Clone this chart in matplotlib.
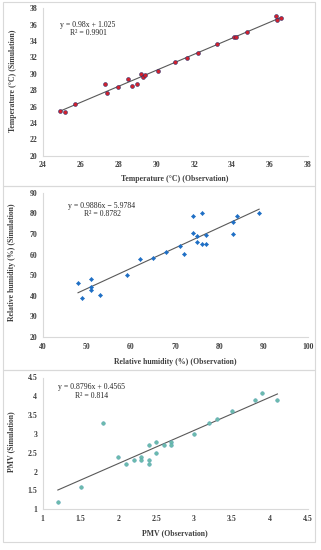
import matplotlib
matplotlib.use("Agg")
import matplotlib.pyplot as plt
from matplotlib.patches import Rectangle
import numpy as np

plt.rcParams['font.family'] = ['Liberation Serif', 'DejaVu Serif']

# Panel 1: temperature
temp_obs = [24.9, 25.2, 25.7, 27.3, 27.4, 28.0, 28.5, 28.7, 29.0, 29.2, 29.3, 29.4,
            30.1, 31.0, 31.6, 32.2, 33.2, 34.1, 34.2, 34.8, 36.3, 36.4, 36.6]
temp_sim = [25.5, 25.3, 26.3, 28.8, 27.7, 28.35, 29.4, 28.5, 28.8, 30.0, 29.6, 29.9,
            30.4, 31.4, 31.9, 32.6, 33.6, 34.45, 34.45, 35.15, 37.0, 36.6, 36.85]

# Panel 2: relative humidity
rh_obs = [48, 49, 51, 51, 51, 53, 59, 62, 65, 68, 71, 72, 74, 74, 75, 75, 76, 76,
          77, 77, 83, 83, 84, 89]
rh_sim = [46, 39, 48.3, 44.2, 43, 40.2, 50.1, 57.8, 58.3, 61.2, 64, 60.4, 78.7, 70.4,
          69, 66.1, 80.3, 65, 69.3, 65, 76, 70, 78.5, 80]

# Panel 3: PMV
pmv_obs = [1.2, 1.5, 1.8, 2.0, 2.1, 2.2, 2.3, 2.3, 2.4, 2.4, 2.4, 2.5, 2.5, 2.6,
           2.7, 2.7, 3.0, 3.2, 3.3, 3.5, 3.8, 3.9, 4.1]
pmv_sim = [1.2, 1.6, 3.3, 2.4, 2.2, 2.3, 2.4, 2.3, 2.7, 2.3, 2.2, 2.8, 2.5, 2.7,
           2.8, 2.7, 3.0, 3.3, 3.4, 3.6, 3.9, 4.1, 3.9]

W, H = 321, 550
fig = plt.figure(figsize=(W / 100, H / 100), dpi=100)


def fx(px):
    return px / W


def fy(py):
    return 1 - py / H


# panel frames
for top, bot in [(2, 185.7), (185.7, 370), (370, 542)]:
    fig.patches.append(Rectangle((fx(3), fy(bot)), fx(312), (bot - top) / H,
                                 transform=fig.transFigure, fill=False,
                                 edgecolor='#d9d9d9', linewidth=0.8))

panels = [
    dict(x=temp_obs, y=temp_sim, slope=0.98, icpt=1.025, top=8.3, bot=155.7,
         xlim=(24, 38), ylim=(20, 38), xt=np.arange(24, 39, 2), yt=np.arange(20, 39, 2),
         fc='#d4202c', ec='#2b2f6b', marker='o', ms=2.8,
         eq='y = 0.98x + 1.025\nR² = 0.9901', eqpos=(88, 29),
         xlabel='Temperature (°C) (Observation)', xlpos=179.3,
         ylabel='Temperature (°C) (Simulation)', ylpos=81, ylx=13),
    dict(x=rh_obs, y=rh_sim, slope=0.9886, icpt=-5.9784, top=192.7, bot=337,
         xlim=(40, 100), ylim=(20, 90), xt=np.arange(40, 101, 10), yt=np.arange(20, 91, 10),
         fc='#1f6fc5', ec='#1f6fc5', marker='D', ms=2.1,
         eq='y = 0.9886x \u2212 5.9784\nR² = 0.8782', eqpos=(102, 210),
         xlabel='Relative humidity (%) (Observation)', xlpos=362.5,
         ylabel='Relative humidity (%) (Simulation)', ylpos=262, ylx=12),
    dict(x=pmv_obs, y=pmv_sim, slope=0.8796, icpt=0.4565, top=377.5, bot=509.3,
         xlim=(1, 4.5), ylim=(1, 4.5), xt=np.arange(1, 4.6, 0.5), yt=np.arange(1, 4.6, 0.5),
         fc='#6cbcaa', ec='#5aa6b8', marker='o', ms=2.6,
         eq='y = 0.8796x + 0.4565\nR² = 0.814', eqpos=(92, 391.5),
         xlabel='PMV (Observation)', xlpos=533,
         ylabel='PMV (Simulation)', ylpos=442, ylx=11),
]

for p in panels:
    ax = fig.add_axes([fx(42.7), fy(p['bot']), fx(265), (p['bot'] - p['top']) / H])
    ax.scatter(p['x'], p['y'], s=p['ms'] ** 2, c=p['fc'], edgecolors=p['ec'],
               linewidths=0.4, marker=p['marker'], zorder=3)
    xs = np.array([min(p['x']), max(p['x'])])
    ax.plot(xs, p['slope'] * xs + p['icpt'], color='#595959', linewidth=0.8, zorder=2)
    ax.set_xlim(*p['xlim'])
    ax.set_ylim(*p['ylim'])
    ax.set_xticks(p['xt'])
    ax.set_yticks(p['yt'])
    ax.set_xticklabels(['%g' % v for v in p['xt']])
    ax.set_yticklabels(['%g' % v for v in p['yt']])
    ax.tick_params(length=0, labelsize=5.6, pad=4, colors='#404040')
    for lab in ax.get_xticklabels() + ax.get_yticklabels():
        lab.set_fontweight('bold')
    for s in ['top', 'right']:
        ax.spines[s].set_visible(False)
    for s in ['left', 'bottom']:
        ax.spines[s].set_color('#d9d9d9')
        ax.spines[s].set_linewidth(0.8)
    fig.text(fx(p['eqpos'][0]), fy(p['eqpos'][1]), p['eq'], ha='center', va='center',
             fontsize=5.6, linespacing=1.15, color='#262626')
    fig.text(fx(175), fy(p['xlpos']), p['xlabel'], ha='center', va='center',
             fontsize=5.6, fontweight='bold', color='#404040')
    fig.text(fx(p['ylx']), fy(p['ylpos']), p['ylabel'], ha='center', va='center',
             rotation=90, fontsize=5.6, fontweight='bold', color='#404040')

fig.savefig('out.png', dpi=100)
